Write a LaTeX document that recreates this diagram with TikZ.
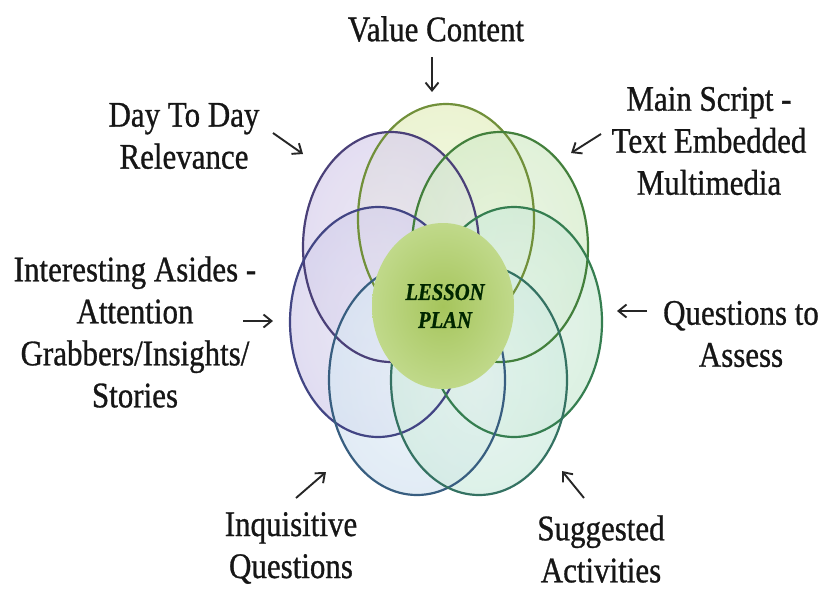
\documentclass[tikz,border=0pt]{standalone}
\usepackage{fontspec}
\setmainfont{Liberation Serif}[FakeStretch=0.86,FakeBold=0.8]
\usetikzlibrary{arrows.meta,shapes.geometric}
\definecolor{fTop}{HTML}{D4E59C}
\definecolor{sTop}{HTML}{71903A}
\definecolor{fTL}{HTML}{C2B5E0}
\definecolor{sTL}{HTML}{4A4078}
\definecolor{fTR}{HTML}{BCE0AA}
\definecolor{sTR}{HTML}{43803C}
\definecolor{fL}{HTML}{BCB4E0}
\definecolor{sL}{HTML}{424584}
\definecolor{fR}{HTML}{B2DFC0}
\definecolor{sR}{HTML}{357E50}
\definecolor{fBL}{HTML}{BED5EA}
\definecolor{sBL}{HTML}{385E80}
\definecolor{fBR}{HTML}{B4E0CE}
\definecolor{sBR}{HTML}{347262}
\definecolor{cIn}{HTML}{A6C55C}
\definecolor{cOut}{HTML}{C0D98A}
\definecolor{txt}{HTML}{161616}
\colorlet{pout}{fTop}
\pgfdeclareradialshading[pout]{bubble}{\pgfpoint{0bp}{0bp}}{%
  color(0bp)=(pout!40!white); color(30bp)=(pout!65!white); color(50bp)=(pout); color(60bp)=(pout)}
\begin{document}
\begin{tikzpicture}[x=1pt,y=-1pt,
  lbl/.style={align=center,font=\fontsize{36}{42}\selectfont,text=txt,inner sep=0pt},
  arr/.style={-{Straight Barb[length=8pt,width=13pt]},line width=1.9pt,black!85},
  petal/.style={ellipse,minimum width=176pt,minimum height=230pt,inner sep=0pt,
    /utils/exec={\colorlet{pout}{#1}},shading=bubble,fill opacity=0.75},
  rim/.style={line width=2.2pt}]
\useasboundingbox (0,0) rectangle (827,592);
% petals
\node[petal=fTop] (P1) at (446,219) {};
\node[petal=fTL]  (P2) at (391,247) {};
\node[petal=fTR]  (P3) at (500,247) {};
\node[petal=fL]   (P4) at (378,322) {};
\node[petal=fR]   (P5) at (514,322) {};
\node[petal=fBL]  (P6) at (417,380) {};
\node[petal=fBR]  (P7) at (479,380) {};
\draw[rim,sTop] (P1.center) ellipse [x radius=88,y radius=115];
\draw[rim,sTL]  (P2.center) ellipse [x radius=88,y radius=115];
\draw[rim,sTR]  (P3.center) ellipse [x radius=88,y radius=115];
\draw[rim,sL]   (P4.center) ellipse [x radius=88,y radius=115];
\draw[rim,sR]   (P5.center) ellipse [x radius=88,y radius=115];
\draw[rim,sBL]  (P6.center) ellipse [x radius=88,y radius=115];
\draw[rim,sBR]  (P7.center) ellipse [x radius=88,y radius=115];
% center
\node[ellipse,minimum width=142pt,minimum height=166pt,inner sep=0pt,
  inner color=cIn,outer color=cOut] (C) at (443,306) {};
\node[align=center,font=\fontsize{24}{28}\selectfont\bfseries\itshape,text=black!85!green,inner sep=0pt]
  (CT) at (445,306) {LESSON\\PLAN};
% labels
\node[lbl] (Lvc) at (436,29) {Value Content};
\node[lbl] (Ldd) at (184,136) {Day To Day\\Relevance};
\node[lbl] (Lms) at (709,141) {Main Script -\\Text Embedded\\Multimedia};
\node[lbl] (Lia) at (135,332) {Interesting Asides -\\Attention\\Grabbers/Insights/\\Stories};
\node[lbl] (Lqa) at (741,334) {Questions to\\Assess};
\node[lbl] (Liq) at (291,548) {Inquisitive\\Questions};
\node[lbl] (Lsa) at (601,549) {Suggested\\Activities};
% arrows
\coordinate (a1s) at (432,57);  \coordinate (a1e) at (432,92);
\coordinate (a2s) at (273,133); \coordinate (a2e) at (303,154);
\coordinate (a3s) at (601,134); \coordinate (a3e) at (571,153);
\coordinate (a4s) at (243,321); \coordinate (a4e) at (273,321);
\coordinate (a5s) at (647,311); \coordinate (a5e) at (617,311);
\coordinate (a6s) at (296,498); \coordinate (a6e) at (326,472);
\coordinate (a7s) at (584,498); \coordinate (a7e) at (562,471);
\draw[arr] (a1s) -- (a1e);
\draw[arr] (a2s) -- (a2e);
\draw[arr] (a3s) -- (a3e);
\draw[arr] (a4s) -- (a4e);
\draw[arr] (a5s) -- (a5e);
\draw[arr] (a6s) -- (a6e);
\draw[arr] (a7s) -- (a7e);
\end{tikzpicture}
\end{document}
